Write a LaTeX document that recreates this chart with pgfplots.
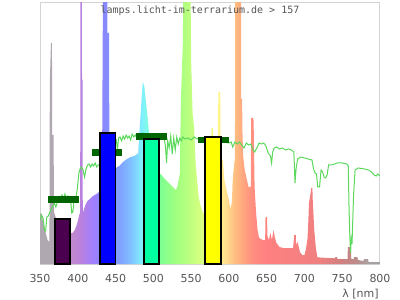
\documentclass[border=0pt]{standalone}
\usepackage{pgfplots}
\pgfplotsset{compat=1.18}
\usepackage{pgfplotstable}
\usepackage{fontspec}
\setmainfont{DejaVu Sans}
\newfontfamily\monofam{DejaVu Sans Mono}
\newcommand\tickfont{\fontsize{11bp}{13bp}\selectfont}
\newcommand\titlefont{\monofam\fontsize{10bp}{12bp}\selectfont}

\definecolor{labgray}{HTML}{555555}
\definecolor{framegray}{HTML}{D4D4D4}
\definecolor{sunline}{HTML}{5CD85C}
\definecolor{mkgreen}{HTML}{006400}
\definecolor{barA}{HTML}{4A004E}
\definecolor{barB}{HTML}{0000FF}
\definecolor{barC}{HTML}{00FFA0}
\definecolor{barD}{HTML}{FFFF00}

\definecolor{s350}{HTML}{B0A8B0}
\definecolor{s365}{HTML}{B0A8B0}
\definecolor{s386}{HTML}{C090C8}
\definecolor{s395}{HTML}{C088D0}
\definecolor{s405}{HTML}{B880E0}
\definecolor{s420}{HTML}{A080FF}
\definecolor{s435}{HTML}{8888FF}
\definecolor{s455}{HTML}{80A0FF}
\definecolor{s470}{HTML}{80C0FF}
\definecolor{s485}{HTML}{80F0FF}
\definecolor{s495}{HTML}{80FFD8}
\definecolor{s510}{HTML}{80FF90}
\definecolor{s530}{HTML}{A0FF80}
\definecolor{s550}{HTML}{C0FF80}
\definecolor{s570}{HTML}{E4FF80}
\definecolor{s585}{HTML}{FFF880}
\definecolor{s595}{HTML}{FFE090}
\definecolor{s610}{HTML}{FFB880}
\definecolor{s630}{HTML}{FF9080}
\definecolor{s650}{HTML}{FF8080}
\definecolor{s720}{HTML}{F08080}
\definecolor{s750}{HTML}{D08080}
\definecolor{s765}{HTML}{C08888}
\definecolor{s785}{HTML}{A8A0A0}
\definecolor{s800}{HTML}{A0A0A0}

% 25bp..75bp of the shading = 350..800 nm
\pgfdeclarehorizontalshading{spectrum}{100bp}{%
color(0bp)=(s350); color(25bp)=(s350); color(26.67bp)=(s365);
color(28.9bp)=(s386); color(30bp)=(s395); color(31.1bp)=(s405);
color(32.8bp)=(s420); color(34.4bp)=(s435); color(36.7bp)=(s455);
color(38.3bp)=(s470); color(40bp)=(s485); color(41.1bp)=(s495);
color(42.8bp)=(s510); color(45bp)=(s530); color(47.2bp)=(s550);
color(49.4bp)=(s570); color(51.1bp)=(s585); color(52.2bp)=(s595);
color(53.9bp)=(s610); color(56.1bp)=(s630); color(58.3bp)=(s650);
color(66.1bp)=(s720); color(69.4bp)=(s750); color(71.1bp)=(s765);
color(73.3bp)=(s785); color(75bp)=(s800); color(100bp)=(s800)}

\pgfplotstableread{
x y
350 51
352 50
354 42
356 36
358 30
360 24
362.5 22
363 182
364.5 221
365.8 221
366.2 129
368 129
368.5 52
372 44
378 38
384 34
390 31
393 31
396 34
399 40
402 49
403.2 52
403.5 300
405.4 300
405.6 184
406.4 184
406.6 51
408 54
410 59
413 63
416 65
420 68
425 70
428 72
432 76
433.5 300
439 300
439.2 231
441.5 231
441.8 95
446 95
450 95
452 97
455 98
460 102
465 105
470 107
475 108
480 111
482 137
484 160
486 182
488 178
490 164
492 150
494 134
496 120
500 100
508 91
511 89
514 86
518 83
522 80
526 77
530 74
532 78
535 90
536.5 164
539 220
540 300
549 300
550 204
552 150
554 137
556 100
558 84
560 67
563 57
566 51
568 50
574 55
576.5 60
577 136
579 136
579.5 60
585.5 90
586 172
588.5 172
589 106
592 104
594 84
596 77
598 70
600 64
602 55
604 62
605 84
607 100
608 105
608.5 300
616 300
616.2 165
617.5 165
618 131
619 107
621 94
623 87
626 77
629 77
629.5 146
632.5 146
633 131
634 77
636 51
638 34
640 26
645 24
648 24
648.5 47
650.5 47
651 28
653 24
655 31
657 24
659 34
661 26
663 21
667 17
672 16
685 16
686.5 29
688.5 29
689 19
691 22
694 12
697 9
700 9
702 15
704 25
705 40
706 61
708 70
709 76
710.5 76
711 64
713 34
715 17
717 7
720 6.5
740 5.7
741 7
743 7
744 5
757 5
757.5 17
761.5 17
762 5
765 5
766 7
770 7
771 4
778 3
779 5
784 5
785 2
800 2
}\spectrum

\pgfplotstableread{
x y
350.5 44
352 49
354 46
356 34
357.5 33
359 47
361 48
363 52
365 55
367 58
369 61
371 57
373 62
375 67
377 64
379 69
381 65
383 70
385 64
387 68
389 66
391 60
392 51
393.5 52
395 63
397 64
399 73
400 80
401.5 91
403 95
405 97
407 94
409 87
411 95
413 99
415 100
417 97
419 100
421 98
423 101
425 97
427 99
430 100
440 112
449 126
451 124
452.5 114
454 126
456 127
458 123
460 128
462 125
464 129
466 126
468 128
470 124
472 130
474 127
476 129
478 126
480 130
483 129
486 131
490 130
500 130
510 128
514 127
516 118
517.5 101
519 123
521 116
523 128
525 110
527 126
529 114
531 127
533 120
535 126
537 123
539 127
542 125
546 126
550 124
554 127
558 125
560 126
600 121
603 122
605 117
608 122
611 120
614 122
617 119
620 116
623 121
626 119
629 120
632 114
634 112
637 116
640 121
643 120
646 121
649 118
652 111
655 108
656.5 101
658 112
660 116
663 117
667 115
671 116
675 114
679 115
683 114
686 112
687.5 81
689 96
691 105
695 107
700 106
705 105
710 104
712 95
714 91
716 90
717.5 77
720 77
722 94
724 92
726 87
728 86
730 89
732 99
736 99
740 100
743 101
750 101
756 100
758 98
759 57
760 30
761 11
762 25
763 20
764 45
765 68
767 94
771 96
780 95
785 94
789 92
792 89
795 88
797 90
800 88
}\sun

\begin{document}
\begin{tikzpicture}
\begin{axis}[
  at={(0,0)}, anchor=south west,
  scale only axis, width=340bp, height=261bp,
  xmin=350, xmax=800, ymin=0, ymax=261,
  axis line style={draw=framegray, line width=1bp},
  xtick={350,400,...,800}, ytick=\empty,
  major tick length=0pt,
  /pgf/number format/assume math mode=true,
  xticklabel style={font=\tickfont, text=labgray, anchor=base, yshift=-18.3bp},
  xlabel={λ [nm]},
  xlabel style={at={(axis description cs:1,0)}, anchor=base east, inner sep=0pt,
     yshift=-33.6bp, xshift=-1.2bp, font=\tickfont, text=labgray},
]
\addplot[draw=none, shade, shading=spectrum] table[x=x,y=y] {\spectrum} \closedcycle;
\addplot[sunline, line width=1bp] table[x=x,y=y] {\sun};
% reference markers
\addplot[mkgreen, line width=6.5bp] coordinates {(361,64.7) (402,64.7)};
\addplot[mkgreen, line width=6.5bp] coordinates {(419,111.5) (459,111.5)};
\addplot[mkgreen, line width=6.5bp] coordinates {(477,127.7) (518,127.7)};
\addplot[mkgreen, line width=6.5bp] coordinates {(559,123.8) (600,123.8)};
% bars
\addplot[ybar, bar width=19.5, bar shift=0pt, fill=barA, draw=black, line width=1.6bp] coordinates {(380,45.3)};
\addplot[ybar, bar width=20, bar shift=0pt, fill=barB, draw=black, line width=1.6bp] coordinates {(439.7,130.7)};
\addplot[ybar, bar width=19.5, bar shift=0pt, fill=barC, draw=black, line width=1.6bp] coordinates {(497.7,124.7)};
\addplot[ybar, bar width=21, bar shift=0pt, fill=barD, draw=black, line width=1.6bp] coordinates {(579,126.7)};
\node[anchor=base, inner sep=0pt, font=\titlefont, text=labgray]
  at (rel axis cs:0.4706,0.959) {lamps.licht-im-terrarium.de > 157};
\end{axis}
\pgfresetboundingbox
\path[use as bounding box] (-40bp,-36bp) rectangle (360bp,264bp);
\end{tikzpicture}
\end{document}
